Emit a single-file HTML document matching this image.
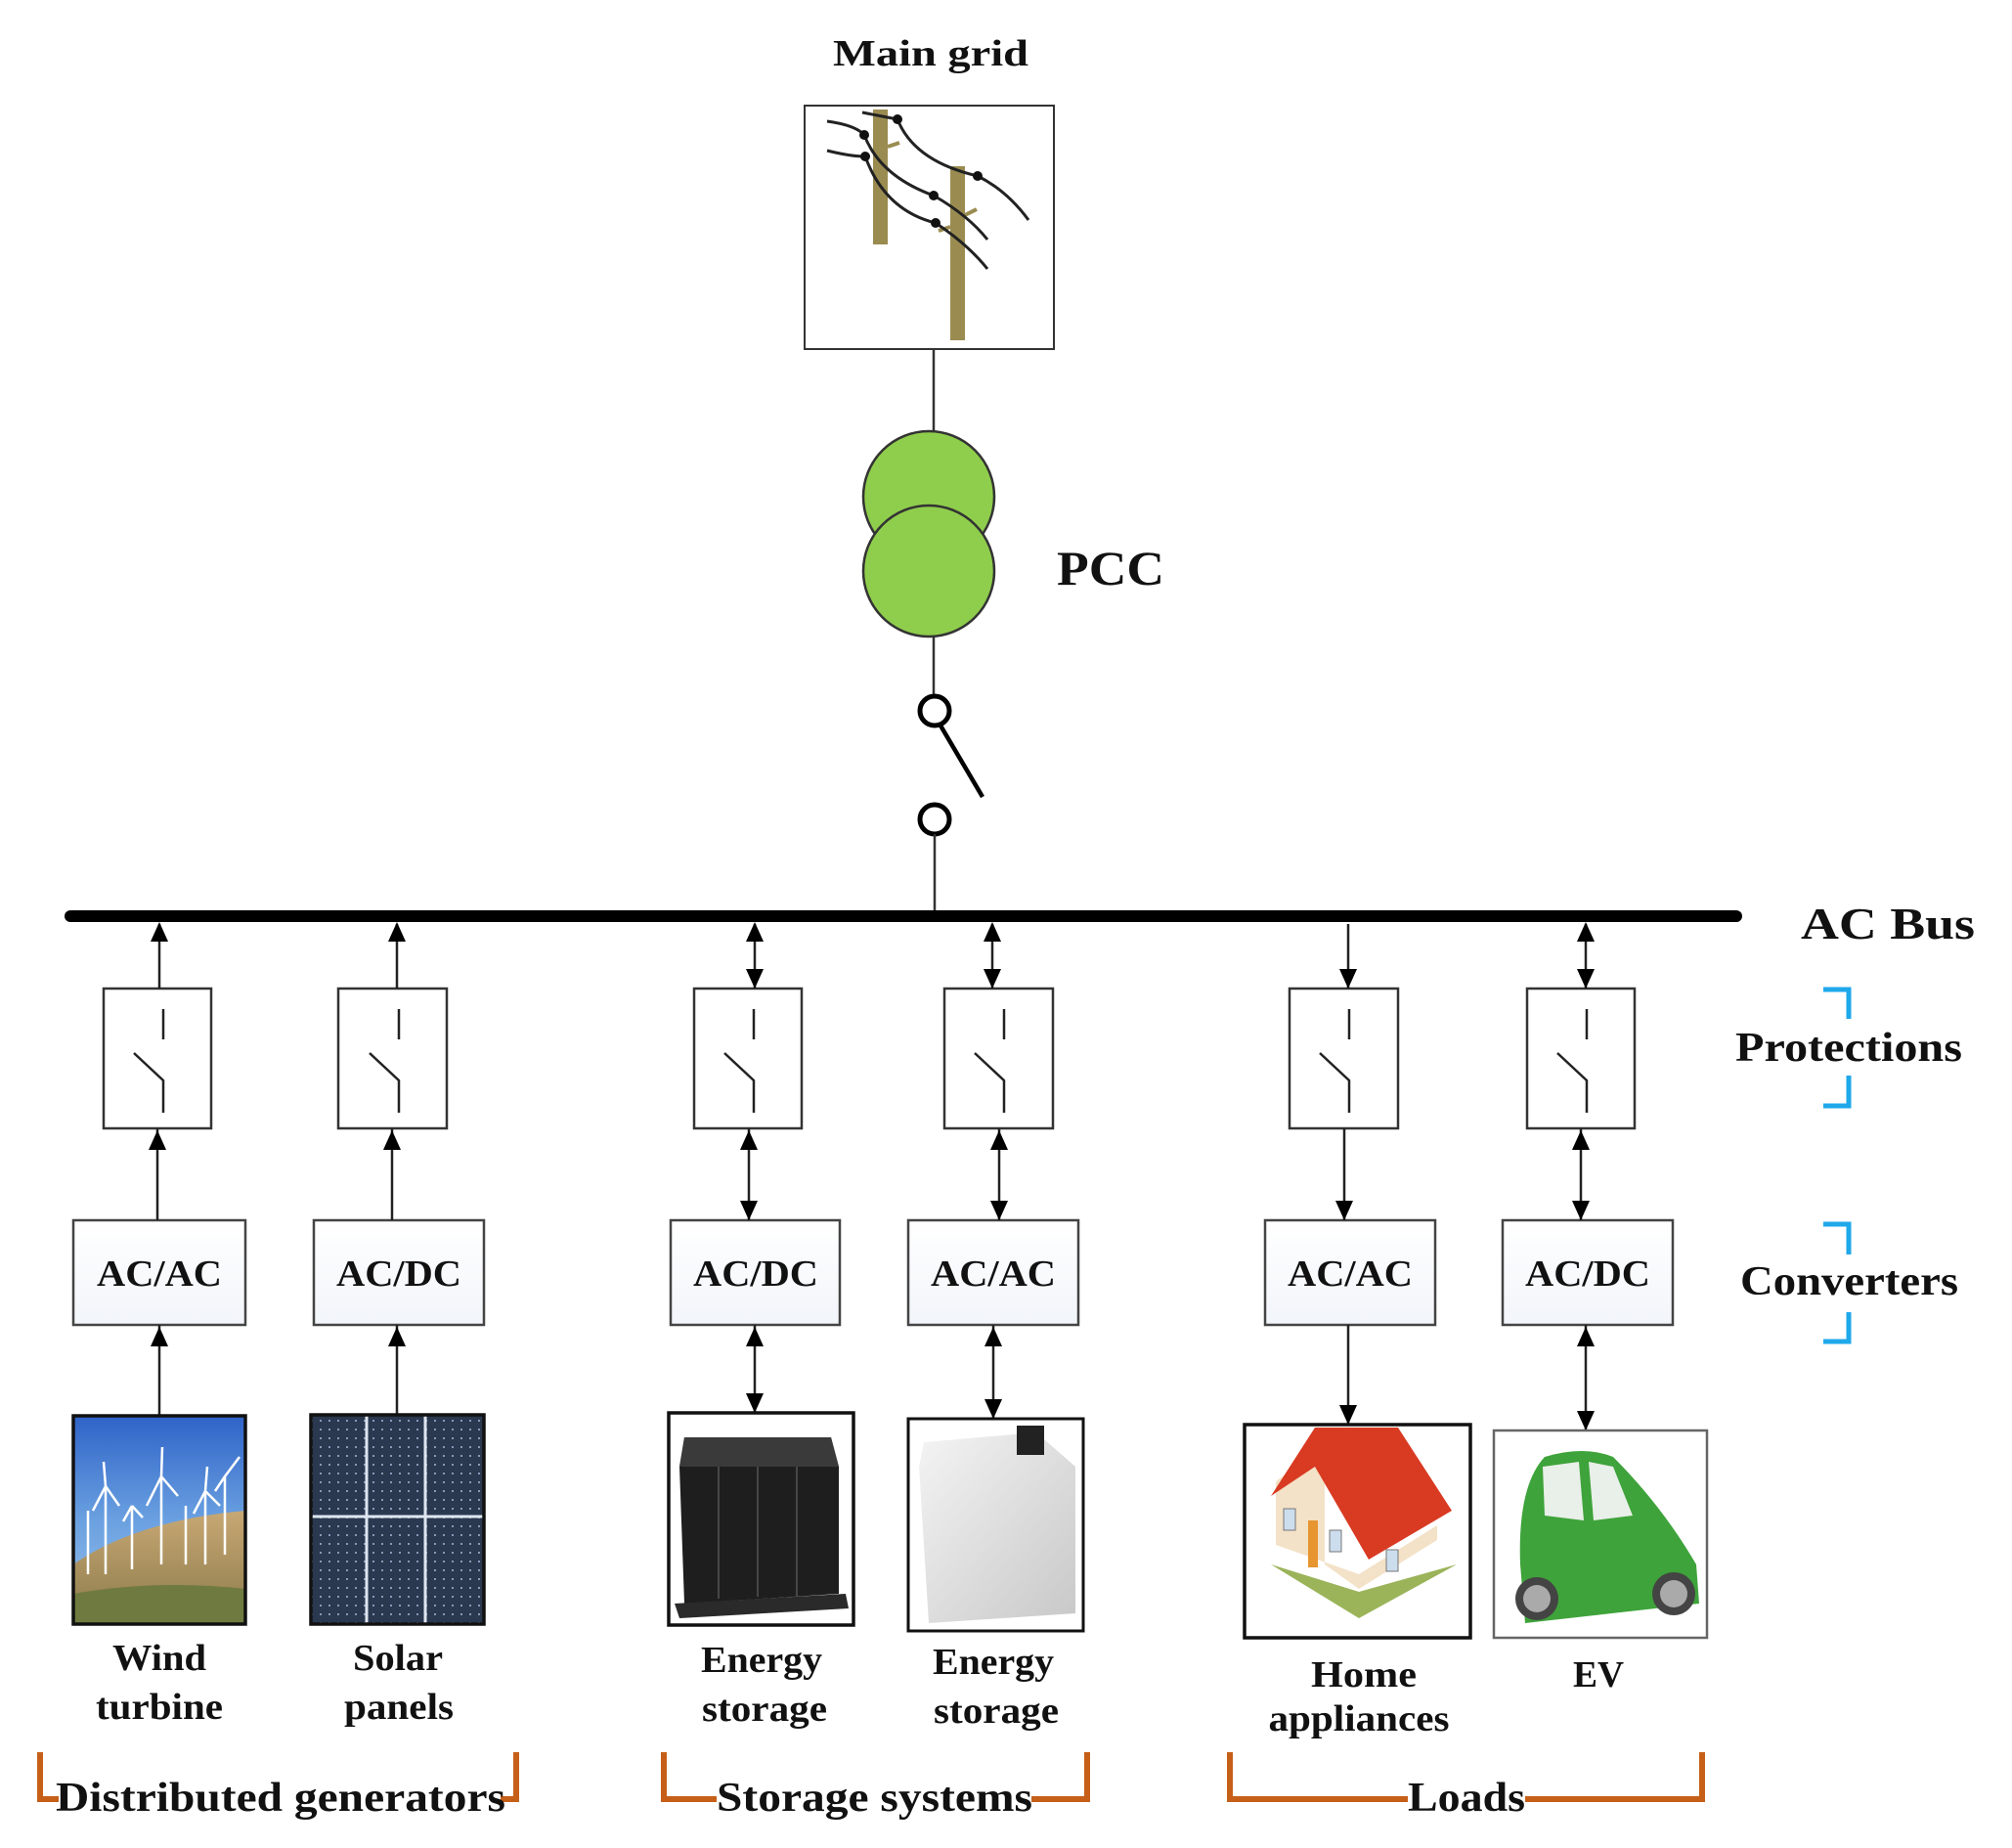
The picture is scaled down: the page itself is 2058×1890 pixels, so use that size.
<!DOCTYPE html>
<html><head><meta charset="utf-8">
<style>html,body{margin:0;padding:0;background:#fff}svg{display:block}
text{font-family:"Liberation Serif",serif;font-weight:bold;fill:#111}</style></head>
<body>
<svg width="2058" height="1890" viewBox="0 0 2058 1890" xmlns="http://www.w3.org/2000/svg">
<defs>
<linearGradient id="sky" x1="0" y1="0" x2="0" y2="1"><stop offset="0" stop-color="#2f63c8"/><stop offset="0.5" stop-color="#6aa0e0"/><stop offset="1" stop-color="#9cc4ec"/></linearGradient>
<linearGradient id="hill" x1="0" y1="0" x2="0" y2="1"><stop offset="0" stop-color="#c8a874"/><stop offset="1" stop-color="#8a7a4a"/></linearGradient>
<linearGradient id="bat2" x1="0" y1="0" x2="1" y2="1"><stop offset="0" stop-color="#f4f4f4"/><stop offset="1" stop-color="#c8c8c8"/></linearGradient>
<linearGradient id="conv" x1="0" y1="0" x2="0" y2="1"><stop offset="0" stop-color="#ffffff"/><stop offset="1" stop-color="#f2f5fa"/></linearGradient>
<pattern id="cells" width="9" height="9" patternUnits="userSpaceOnUse"><rect width="9" height="9" fill="#2a3850"/><rect x="3" y="3" width="2" height="2" fill="#8898b8"/></pattern>
</defs>

<text x="952" y="67" font-size="38" text-anchor="middle" textLength="200" lengthAdjust="spacingAndGlyphs">Main grid</text>
<rect x="823" y="108" width="255" height="249" fill="#fff" stroke="#333" stroke-width="2"/>
<rect x="893" y="112" width="15" height="138" fill="#9a8c50"/>
<rect x="972" y="170" width="15" height="178" fill="#9a8c50"/>
<path d="M908 150 L920 146 M987 220 L999 214 M960 236 L972 232" stroke="#9a8c50" stroke-width="4"/>
<g fill="none" stroke="#222" stroke-width="3">
<path d="M882 115 L918 122 Q935 165 1000 180 Q1030 195 1052 225"/>
<path d="M846 124 Q875 128 884 138 Q900 180 955 200 Q990 220 1010 245"/>
<path d="M846 154 Q870 160 885 160 Q905 215 957 228 Q990 250 1010 275"/>
</g>
<g fill="#111"><circle cx="918" cy="122" r="5"/><circle cx="884" cy="138" r="5"/><circle cx="885" cy="160" r="5"/><circle cx="1000" cy="180" r="5"/><circle cx="955" cy="200" r="5"/><circle cx="957" cy="228" r="5"/></g>

<line x1="955" y1="357" x2="955" y2="446" stroke="#333" stroke-width="2.5"/>
<circle cx="950" cy="508" r="67" fill="#8fce4c" stroke="#333" stroke-width="2.5"/>
<circle cx="950" cy="584" r="67" fill="#8fce4c" stroke="#333" stroke-width="2.5"/>
<text x="1081" y="598" font-size="50" textLength="110" lengthAdjust="spacingAndGlyphs">PCC</text>
<line x1="955" y1="651" x2="955" y2="710" stroke="#333" stroke-width="2.5"/>
<circle cx="956" cy="727" r="15" fill="none" stroke="#000" stroke-width="5"/>
<line x1="962" y1="742" x2="1005" y2="815" stroke="#000" stroke-width="4.5"/>
<circle cx="956" cy="838" r="15" fill="none" stroke="#000" stroke-width="5"/>
<line x1="956" y1="853" x2="956" y2="935" stroke="#333" stroke-width="2.5"/>

<line x1="72" y1="937" x2="1776" y2="937" stroke="#000" stroke-width="12" stroke-linecap="round"/>
<text x="1842" y="960" font-size="46" textLength="178" lengthAdjust="spacingAndGlyphs">AC Bus</text>

<g stroke="#1fa8ea" stroke-width="5" fill="none">
<path d="M1865 1012 L1891 1012 L1891 1042"/><path d="M1891 1100 L1891 1131 L1865 1131"/>
<path d="M1865 1252 L1891 1252 L1891 1283"/><path d="M1891 1342 L1891 1372 L1865 1372"/>
</g>
<text x="1775" y="1085" font-size="42" textLength="232" lengthAdjust="spacingAndGlyphs">Protections</text>
<text x="1780" y="1324" font-size="42" textLength="223" lengthAdjust="spacingAndGlyphs">Converters</text>

<g fill="#fff" stroke="#333" stroke-width="2.5">
<rect x="106" y="1011" width="110" height="143"/>
<rect x="346" y="1011" width="111" height="143"/>
<rect x="710" y="1011" width="110" height="143"/>
<rect x="966" y="1011" width="111" height="143"/>
<rect x="1319" y="1011" width="111" height="143"/>
<rect x="1562" y="1011" width="110" height="143"/>
</g>
<g stroke="#222" stroke-width="2.5" fill="none">
<path d="M167 1032 V1063 M137 1077 L167 1105 V1138"/>
<path d="M408 1032 V1063 M378 1077 L408 1105 V1138"/>
<path d="M771 1032 V1063 M741 1077 L771 1105 V1138"/>
<path d="M1027 1032 V1063 M997 1077 L1027 1105 V1138"/>
<path d="M1380 1032 V1063 M1350 1077 L1380 1105 V1138"/>
<path d="M1623 1032 V1063 M1593 1077 L1623 1105 V1138"/>
</g>

<g fill="url(#conv)" stroke="#444" stroke-width="2.5">
<rect x="75" y="1248" width="176" height="107"/>
<rect x="321" y="1248" width="174" height="107"/>
<rect x="686" y="1248" width="173" height="107"/>
<rect x="929" y="1248" width="174" height="107"/>
<rect x="1294" y="1248" width="174" height="107"/>
<rect x="1537" y="1248" width="174" height="107"/>
</g>
<g font-size="38" text-anchor="middle">
<text x="163" y="1315" textLength="128" lengthAdjust="spacingAndGlyphs">AC/AC</text>
<text x="408" y="1315" textLength="128" lengthAdjust="spacingAndGlyphs">AC/DC</text>
<text x="773" y="1315" textLength="128" lengthAdjust="spacingAndGlyphs">AC/DC</text>
<text x="1016" y="1315" textLength="128" lengthAdjust="spacingAndGlyphs">AC/AC</text>
<text x="1381" y="1315" textLength="128" lengthAdjust="spacingAndGlyphs">AC/AC</text>
<text x="1624" y="1315" textLength="128" lengthAdjust="spacingAndGlyphs">AC/DC</text>
</g>

<g stroke="#222" stroke-width="2.5">
<line x1="163" y1="945" x2="163" y2="1011"/><line x1="161" y1="1154" x2="161" y2="1248"/><line x1="163" y1="1355" x2="163" y2="1450"/>
<line x1="406" y1="945" x2="406" y2="1011"/><line x1="401" y1="1154" x2="401" y2="1248"/><line x1="406" y1="1355" x2="406" y2="1446"/>
<line x1="772" y1="945" x2="772" y2="1011"/><line x1="766" y1="1154" x2="766" y2="1248"/><line x1="772" y1="1355" x2="772" y2="1445"/>
<line x1="1015" y1="945" x2="1015" y2="1011"/><line x1="1022" y1="1154" x2="1022" y2="1248"/><line x1="1016" y1="1355" x2="1016" y2="1451"/>
<line x1="1379" y1="945" x2="1379" y2="1011"/><line x1="1375" y1="1154" x2="1375" y2="1248"/><line x1="1379" y1="1355" x2="1379" y2="1457"/>
<line x1="1622" y1="945" x2="1622" y2="1011"/><line x1="1617" y1="1154" x2="1617" y2="1248"/><line x1="1622" y1="1355" x2="1622" y2="1463"/>
</g>
<g fill="#000">
<polygon points="163,943 154,963 172,963"/><polygon points="161,1156 152,1176 170,1176"/><polygon points="163,1357 154,1377 172,1377"/>
<polygon points="406,943 397,963 415,963"/><polygon points="401,1156 392,1176 410,1176"/><polygon points="406,1357 397,1377 415,1377"/>
<polygon points="772,943 763,963 781,963"/><polygon points="772,1011 763,991 781,991"/>
<polygon points="766,1156 757,1176 775,1176"/><polygon points="766,1248 757,1228 775,1228"/>
<polygon points="772,1357 763,1377 781,1377"/><polygon points="772,1445 763,1425 781,1425"/>
<polygon points="1015,943 1006,963 1024,963"/><polygon points="1015,1011 1006,991 1024,991"/>
<polygon points="1022,1156 1013,1176 1031,1176"/><polygon points="1022,1248 1013,1228 1031,1228"/>
<polygon points="1016,1357 1007,1377 1025,1377"/><polygon points="1016,1451 1007,1431 1025,1431"/>
<polygon points="1379,1011 1370,991 1388,991"/><polygon points="1375,1248 1366,1228 1384,1228"/><polygon points="1379,1457 1370,1437 1388,1437"/>
<polygon points="1622,943 1613,963 1631,963"/><polygon points="1622,1011 1613,991 1631,991"/>
<polygon points="1617,1156 1608,1176 1626,1176"/><polygon points="1617,1248 1608,1228 1626,1228"/>
<polygon points="1622,1357 1613,1377 1631,1377"/><polygon points="1622,1463 1613,1443 1631,1443"/>
</g>

<rect x="75" y="1448" width="176" height="213" fill="url(#sky)"/>
<path d="M75 1600 Q140 1555 251 1545 L251 1661 L75 1661 Z" fill="url(#hill)"/>
<path d="M75 1630 Q160 1615 251 1625 L251 1661 L75 1661 Z" fill="#6f7a40"/>
<g stroke="#fff" stroke-width="2.5" fill="none">
<path d="M108 1610 V1520 M108 1520 L95 1545 M108 1520 L122 1540 M108 1520 L106 1495"/>
<path d="M165 1600 V1510 M165 1510 L150 1540 M165 1510 L182 1530 M165 1510 L166 1480"/>
<path d="M210 1600 V1525 M210 1525 L198 1548 M210 1525 L225 1540 M210 1525 L212 1500"/>
<path d="M230 1590 V1510 M230 1510 L245 1490 M230 1510 L220 1525"/>
<path d="M135 1605 V1540 M135 1540 L126 1556 M135 1540 L146 1552"/>
<path d="M90 1610 V1545 M190 1600 V1540"/>
</g>
<rect x="75" y="1448" width="176" height="213" fill="none" stroke="#111" stroke-width="3.5"/>

<rect x="318" y="1447" width="177" height="214" fill="url(#cells)"/>
<g stroke="#dfe6f0" stroke-width="3"><line x1="375" y1="1447" x2="375" y2="1661"/><line x1="435" y1="1447" x2="435" y2="1661"/><line x1="318" y1="1551" x2="495" y2="1551"/></g>
<rect x="318" y="1447" width="177" height="214" fill="none" stroke="#111" stroke-width="3.5"/>

<rect x="684" y="1445" width="189" height="217" fill="#fff" stroke="#111" stroke-width="3.5"/>
<path d="M700 1470 L850 1470 L858 1500 L858 1630 L700 1640 L695 1500 Z" fill="#1e1e1e"/>
<path d="M700 1470 L850 1470 L858 1500 L695 1500 Z" fill="#3a3a3a"/>
<g stroke="#555" stroke-width="1.5"><line x1="735" y1="1500" x2="735" y2="1635"/><line x1="775" y1="1500" x2="775" y2="1633"/><line x1="815" y1="1500" x2="815" y2="1632"/></g>
<path d="M690 1640 L865 1630 L868 1645 L695 1655 Z" fill="#2a2a2a"/>

<rect x="929" y="1451" width="179" height="217" fill="#fff" stroke="#111" stroke-width="3"/>
<path d="M945 1475 L1060 1465 L1100 1500 L1100 1650 L950 1660 L940 1500 Z" fill="url(#bat2)"/>
<rect x="1040" y="1458" width="28" height="30" fill="#222"/>

<rect x="1273" y="1457" width="231" height="218" fill="#fff" stroke="#111" stroke-width="3.5"/>
<path d="M1300 1600 L1390 1655 L1490 1600 L1390 1628 Z" fill="#9bb45a"/>
<path d="M1305 1515 L1355 1478 L1355 1600 L1390 1625 L1470 1575 L1470 1560 L1390 1610 L1305 1580 Z" fill="#f3e2c8"/>
<path d="M1300 1530 L1345 1460 L1430 1460 L1485 1545 L1400 1595 L1345 1500 Z" fill="#d93a22"/>
<rect x="1338" y="1555" width="10" height="48" fill="#e69530"/>
<rect x="1313" y="1543" width="12" height="22" fill="#cde" stroke="#777"/>
<rect x="1360" y="1565" width="12" height="22" fill="#cde" stroke="#777"/>
<rect x="1418" y="1585" width="12" height="22" fill="#cde" stroke="#777"/>

<rect x="1528" y="1463" width="218" height="212" fill="#fff" stroke="#666" stroke-width="2.5"/>
<path d="M1555 1600 Q1552 1520 1580 1490 Q1620 1478 1650 1490 Q1700 1540 1735 1600 L1738 1640 L1560 1660 Z" fill="#3ea33a"/>
<path d="M1578 1500 L1615 1495 L1620 1555 L1580 1550 Z M1625 1495 L1650 1500 L1670 1550 L1630 1555 Z" fill="#e9efe9"/>
<circle cx="1572" cy="1635" r="22" fill="#444"/><circle cx="1572" cy="1635" r="14" fill="#aaa"/>
<circle cx="1712" cy="1630" r="22" fill="#444"/><circle cx="1712" cy="1630" r="14" fill="#aaa"/>

<g font-size="38" text-anchor="middle">
<text x="163" y="1708" textLength="96" lengthAdjust="spacingAndGlyphs">Wind</text>
<text x="163" y="1758" textLength="130" lengthAdjust="spacingAndGlyphs">turbine</text>
<text x="407" y="1708" textLength="92" lengthAdjust="spacingAndGlyphs">Solar</text>
<text x="408" y="1758" textLength="112" lengthAdjust="spacingAndGlyphs">panels</text>
<text x="779" y="1710" textLength="124" lengthAdjust="spacingAndGlyphs">Energy</text>
<text x="782" y="1760" textLength="128" lengthAdjust="spacingAndGlyphs">storage</text>
<text x="1016" y="1712" textLength="124" lengthAdjust="spacingAndGlyphs">Energy</text>
<text x="1019" y="1762" textLength="128" lengthAdjust="spacingAndGlyphs">storage</text>
<text x="1395" y="1725" textLength="108" lengthAdjust="spacingAndGlyphs">Home</text>
<text x="1390" y="1770" textLength="185" lengthAdjust="spacingAndGlyphs">appliances</text>
<text x="1635" y="1725" textLength="52" lengthAdjust="spacingAndGlyphs">EV</text>
</g>

<g stroke="#c65f18" stroke-width="6" fill="none">
<path d="M41 1792 V1840 H60"/><path d="M512 1840 H528 V1792"/>
<path d="M679 1792 V1840 H733"/><path d="M1055 1840 H1112 V1792"/>
<path d="M1258 1792 V1840 H1440"/><path d="M1560 1840 H1741 V1792"/>
</g>
<g font-size="42">
<text x="57" y="1852" textLength="460" lengthAdjust="spacingAndGlyphs">Distributed generators</text>
<text x="733" y="1852" textLength="323" lengthAdjust="spacingAndGlyphs">Storage systems</text>
<text x="1440" y="1852" textLength="120" lengthAdjust="spacingAndGlyphs">Loads</text>
</g>
</svg>
</body></html>
